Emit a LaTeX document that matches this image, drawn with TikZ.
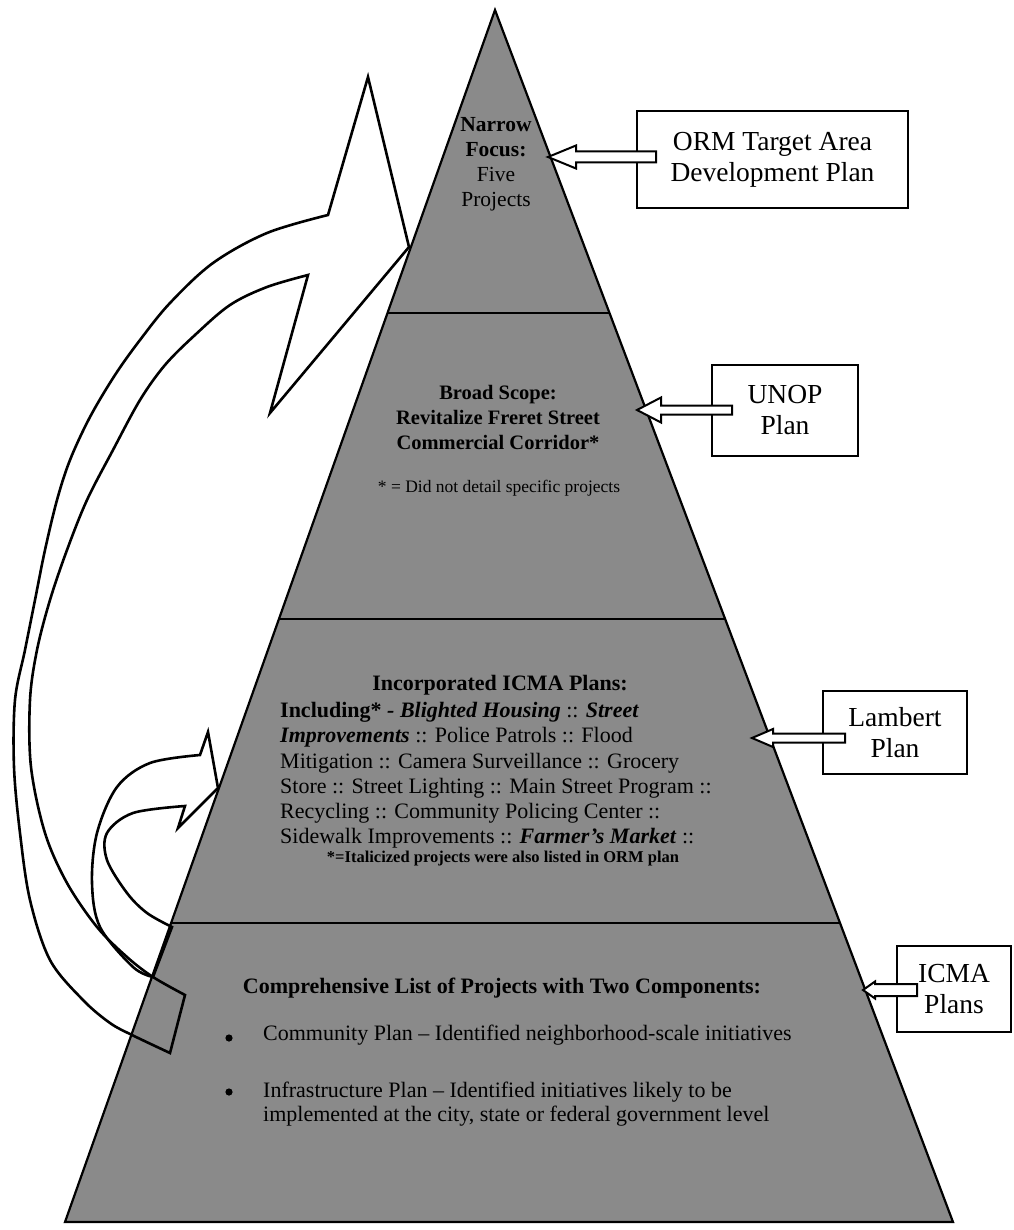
\documentclass[tikz,border=0pt]{standalone}
\usepackage{fontspec}
\setmainfont{Liberation Serif}
\definecolor{pyrgray}{RGB}{138,138,138}
\newcommand{\blkarrow}[5]{%
  \draw[blockarr] (#1) -- ++(#2,-#3) -- ++(0,{#3-#4}) -- ++({#5-#2},0) -- ++(0,{2*#4}) -- ++({#2-#5},0) -- ++(0,{#3-#4}) -- cycle;}
\begin{document}
\begin{tikzpicture}[x=1pt,y=-1pt,
  pyr/.style={fill=pyrgray, draw=black, line width=2.2pt, line join=miter},
  divider/.style={draw=black, line width=2.8pt},
  planbox/.style={draw=black, fill=white, line width=2.6pt, align=center, inner sep=0pt, font=\fontsize{27.5}{31}\selectfont},
  blockarr/.style={draw=black, fill=white, line width=2pt, line join=miter},
  curvearr/.style={draw=black, line width=2.6pt, line join=miter},
  ptext/.style={inner sep=0pt}]
\useasboundingbox (0,0) rectangle (1013,1230);
\fill[white] (0,0) rectangle (1013,1230);
% pyramid
\coordinate (apex) at (495,10);
\coordinate (bl) at (65,1222);
\coordinate (br) at (953,1222);
\draw[pyr] (apex) -- (br) -- (bl) -- cycle;
\coordinate (d1l) at (387.5,313); \coordinate (d1r) at (609.5,313);
\coordinate (d2l) at (279,619);   \coordinate (d2r) at (725,619);
\coordinate (d3l) at (171,923);   \coordinate (d3r) at (840,923);
\draw[divider] (d1l) -- (d1r);
\draw[divider] (d2l) -- (d2r);
\draw[divider] (d3l) -- (d3r);
% texts
\node[ptext, font=\fontsize{21.5}{25}\selectfont, align=center, anchor=north] (narrow) at (496,117) {\textbf{Narrow}\\\textbf{Focus:}\\Five\\Projects};
\node[ptext, font=\bfseries\fontsize{20.5}{25}\selectfont, align=center, anchor=north] (broad) at (498,385) {Broad Scope:\\Revitalize Freret Street\\Commercial Corridor*};
\node[ptext, font=\fontsize{17.5}{20}\selectfont] (note1) at (499,488) {* = Did not detail specific projects};
\node[ptext, font=\bfseries\fontsize{22}{25}\selectfont] (icmah) at (500,685) {Incorporated ICMA Plans:};
\node[ptext, font=\fontsize{22}{25.3}\selectfont, align=left, anchor=north west] (icmal) at (280,702) {\textbf{Including*} \textbf{\textit{- Blighted Housing}} :: \textbf{\textit{Street}}\\\textbf{\textit{Improvements}} :: Police Patrols :: Flood\\Mitigation :: Camera Surveillance :: Grocery\\Store :: Street Lighting :: Main Street Program ::\\Recycling :: Community Policing Center ::\\Sidewalk Improvements :: \textbf{\textit{Farmer’s Market}} ::};
\node[ptext, font=\bfseries\fontsize{16.5}{20}\selectfont] (note2) at (503,859) {*=Italicized projects were also listed in ORM plan};
\node[ptext, font=\bfseries\fontsize{22}{25}\selectfont] (comp) at (502,988) {Comprehensive List of Projects with Two Components:};
\fill (229,1038) circle (3.6);
\node[ptext, font=\fontsize{22}{24}\selectfont, anchor=west] (comm) at (263,1035) {Community Plan – Identified neighborhood-scale initiatives};
\fill (229,1092) circle (3.6);
\node[ptext, font=\fontsize{22}{23.5}\selectfont, align=left, anchor=north west] (infra) at (263,1082) {Infrastructure Plan – Identified initiatives likely to be\\implemented at the city, state or federal government level};
% curved arrow A (bottom to top)
\draw[curvearr] (328,215) -- (368,77) -- (409,247) -- (270,413) -- (308,275)
  -- plot[smooth, tension=0.55] coordinates {(308,275) (267,287) (230,305) (195,335) (165,365) (140,400) (113,450) (87,500) (67,550) (50,600) (37,650) (30,700) (31,767) (45,833) (67,883) (97,927) (127,957) (153,977) (185,995)}
  -- (170,1053)
  -- plot[smooth, tension=0.55] coordinates {(170,1053) (132,1035) (110,1023) (83,1000) (50,960) (30,900) (20,833) (14,767) (15,700) (25,650) (35,600) (45,550) (57,500) (70,460) (90,417) (115,375) (140,340) (170,303) (213,263) (267,233) (328,215)}
  -- cycle;
% curved arrow B (bottom to third level)
\draw[curvearr] (200,755) -- (208,732) -- (218,788) -- (178,828) -- (185,806)
  -- plot[smooth, tension=0.55] coordinates {(185,806) (133,813) (107,833) (107,860) (127,893) (147,913) (172,927)}
  -- (153,977)
  -- plot[smooth, tension=0.55] coordinates {(153,977) (133,967) (100,927) (92,883) (97,833) (117,787) (150,763) (200,755)}
  -- cycle;
% plan boxes
\node[planbox, minimum width=271pt, minimum height=97pt] (orm) at (772.5,159.5) {ORM Target Area\\Development Plan};
\node[planbox, minimum width=146pt, minimum height=91pt] (unop) at (785,410.5) {UNOP\\Plan};
\node[planbox, minimum width=144pt, minimum height=83pt] (lambert) at (895,732.5) {Lambert\\Plan};
\node[planbox, minimum width=114pt, minimum height=86pt] (icma) at (954,989) {ICMA\\Plans};
% block arrows from boxes to pyramid
\coordinate (ormtip) at (548,157);
\coordinate (unoptip) at (637,410);
\coordinate (lambtip) at (752,738);
\coordinate (icmatip) at (863,990);
\blkarrow{ormtip}{28}{11.5}{5.5}{108}
\blkarrow{unoptip}{24}{12.5}{4.5}{95}
\blkarrow{lambtip}{21}{9}{4.5}{93}
\blkarrow{icmatip}{12}{8.5}{6}{54}
\end{tikzpicture}
\end{document}
